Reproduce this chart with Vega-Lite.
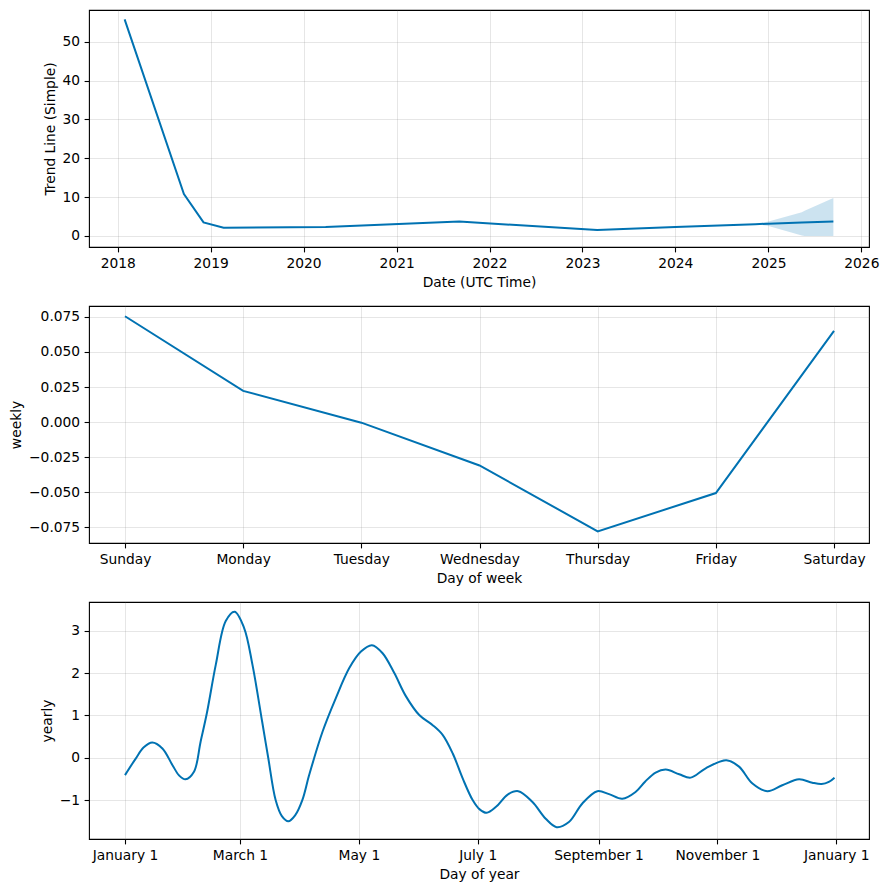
{
  "$schema": "https://vega.github.io/schema/vega-lite/v6.json",
  "padding": {"left": 8, "top": 9, "right": 5, "bottom": 5},
  "spacing": 15,
  "config": {
    "font": "DejaVu Sans",
    "view": {"stroke": "black", "strokeWidth": 1.1},
    "axis": {
      "domain": false, "grid": true, "gridColor": "#808080", "gridOpacity": 0.2, "gridWidth": 1,
      "tickColor": "black", "tickSize": 4.9, "tickWidth": 1.1,
      "labelColor": "black", "labelFontSize": 13.8, "labelFont": "DejaVu Sans", "labelPadding": 4.5,
      "titleFont": "DejaVu Sans", "titleFontSize": 13.8, "titleFontWeight": "normal", "titleColor": "black", "titlePadding": 5,
      "labelFlush": false, "labelOverlap": false
    },
    "line": {"color": "#0072B2", "strokeWidth": 2}
  },
  "datasets": {
    "trend": [
      {"ds": "2018-01-28", "trend": 55.8},
      {"ds": "2018-09-18", "trend": 10.8},
      {"ds": "2018-12-04", "trend": 3.5},
      {"ds": "2019-02-21", "trend": 2.15},
      {"ds": "2020-03-28", "trend": 2.3},
      {"ds": "2021-09-04", "trend": 3.71},
      {"ds": "2023-02-28", "trend": 1.55},
      {"ds": "2024-01-01", "trend": 2.33},
      {"ds": "2024-11-10", "trend": 3.05},
      {"ds": "2025-01-01", "trend": 3.15},
      {"ds": "2025-05-12", "trend": 3.5},
      {"ds": "2025-09-13", "trend": 3.7}
    ],
    "band": [
      {"ds": "2024-11-10", "lower": 3.05, "upper": 3.05},
      {"ds": "2025-01-01", "lower": 2.6, "upper": 3.7},
      {"ds": "2025-05-12", "lower": 0.1, "upper": 6.1},
      {"ds": "2025-05-23", "lower": 0.0, "upper": 6.5},
      {"ds": "2025-09-13", "lower": 0.0, "upper": 9.8}
    ],
    "weekly": [
      {"dow": 0, "weekly": 0.0755},
      {"dow": 1, "weekly": 0.0223},
      {"dow": 2, "weekly": -0.0004},
      {"dow": 3, "weekly": -0.0309},
      {"dow": 4, "weekly": -0.0779},
      {"dow": 5, "weekly": -0.0506},
      {"dow": 6, "weekly": 0.0650}
    ],
    "yearly": [
      {"day": 0, "yearly": -0.41},
      {"day": 5.5, "yearly": -0.02},
      {"day": 9.5, "yearly": 0.24},
      {"day": 14.0, "yearly": 0.36},
      {"day": 19.2, "yearly": 0.22},
      {"day": 24.3, "yearly": -0.17},
      {"day": 27.8, "yearly": -0.42},
      {"day": 31.0, "yearly": -0.51},
      {"day": 35.4, "yearly": -0.33},
      {"day": 38.8, "yearly": 0.38},
      {"day": 42.0, "yearly": 1.05},
      {"day": 46.6, "yearly": 2.20},
      {"day": 51.7, "yearly": 3.23},
      {"day": 56.3, "yearly": 3.45},
      {"day": 61.1, "yearly": 3.07},
      {"day": 65.4, "yearly": 2.20},
      {"day": 70.4, "yearly": 0.85},
      {"day": 73.5, "yearly": 0.0},
      {"day": 77.3, "yearly": -1.0},
      {"day": 80.5, "yearly": -1.38},
      {"day": 83.8, "yearly": -1.50},
      {"day": 87.3, "yearly": -1.36},
      {"day": 91.0, "yearly": -1.0},
      {"day": 94.5, "yearly": -0.41},
      {"day": 101.4, "yearly": 0.62},
      {"day": 108.2, "yearly": 1.41},
      {"day": 115.1, "yearly": 2.12},
      {"day": 121.1, "yearly": 2.51},
      {"day": 126.7, "yearly": 2.66},
      {"day": 132.2, "yearly": 2.47},
      {"day": 138.2, "yearly": 2.0},
      {"day": 144.2, "yearly": 1.45},
      {"day": 151.0, "yearly": 1.01},
      {"day": 157.9, "yearly": 0.77},
      {"day": 163.0, "yearly": 0.54},
      {"day": 168.2, "yearly": 0.10},
      {"day": 173.3, "yearly": -0.49},
      {"day": 178.4, "yearly": -1.0},
      {"day": 182.0, "yearly": -1.22},
      {"day": 185.6, "yearly": -1.30},
      {"day": 190.4, "yearly": -1.16},
      {"day": 196.4, "yearly": -0.87},
      {"day": 201.8, "yearly": -0.79},
      {"day": 209.0, "yearly": -1.04},
      {"day": 215.9, "yearly": -1.44},
      {"day": 221.5, "yearly": -1.64},
      {"day": 227.8, "yearly": -1.52},
      {"day": 234.7, "yearly": -1.08},
      {"day": 242.4, "yearly": -0.79},
      {"day": 248.4, "yearly": -0.86},
      {"day": 255.2, "yearly": -0.97},
      {"day": 262.0, "yearly": -0.81},
      {"day": 267.0, "yearly": -0.56},
      {"day": 272.3, "yearly": -0.35},
      {"day": 277.5, "yearly": -0.28},
      {"day": 284.4, "yearly": -0.39},
      {"day": 290.3, "yearly": -0.47},
      {"day": 298.0, "yearly": -0.25},
      {"day": 308.6, "yearly": -0.06},
      {"day": 315.1, "yearly": -0.21},
      {"day": 322.0, "yearly": -0.61},
      {"day": 329.6, "yearly": -0.79},
      {"day": 337.3, "yearly": -0.65},
      {"day": 345.9, "yearly": -0.51},
      {"day": 352.7, "yearly": -0.59},
      {"day": 357.5, "yearly": -0.62},
      {"day": 361.2, "yearly": -0.57},
      {"day": 364.1, "yearly": -0.47}
    ]
  },
  "vconcat": [
    {
      "width": 780,
      "height": 237,
      "layer": [
        {
          "data": {"name": "band"},
          "mark": {"type": "area", "color": "#0072B2", "opacity": 0.2},
          "encoding": {
            "x": {
              "field": "ds", "type": "temporal",
              "scale": {"type": "utc", "domain": [{"year": 2017, "month": 9, "date": 10, "utc": true}, {"year": 2026, "month": 1, "date": 31, "utc": true}], "nice": false},
              "axis": {
                "title": "Date (UTC Time)", "format": "%Y",
                "values": [
                  {"year": 2018, "month": 1, "date": 1, "utc": true},
                  {"year": 2019, "month": 1, "date": 1, "utc": true},
                  {"year": 2020, "month": 1, "date": 1, "utc": true},
                  {"year": 2021, "month": 1, "date": 1, "utc": true},
                  {"year": 2022, "month": 1, "date": 1, "utc": true},
                  {"year": 2023, "month": 1, "date": 1, "utc": true},
                  {"year": 2024, "month": 1, "date": 1, "utc": true},
                  {"year": 2025, "month": 1, "date": 1, "utc": true},
                  {"year": 2026, "month": 1, "date": 1, "utc": true}
                ]
              }
            },
            "y": {
              "field": "lower", "type": "quantitative",
              "scale": {"domain": [-2.84, 58.2], "nice": false, "zero": false},
              "axis": {"title": "Trend Line (Simple)", "values": [0, 10, 20, 30, 40, 50], "format": "d"}
            },
            "y2": {"field": "upper"}
          }
        },
        {
          "data": {"name": "trend"},
          "mark": {"type": "line"},
          "encoding": {
            "x": {"field": "ds", "type": "temporal", "title": "Date (UTC Time)"},
            "y": {"field": "trend", "type": "quantitative", "title": "Trend Line (Simple)"}
          }
        }
      ]
    },
    {
      "width": 780,
      "height": 237,
      "data": {"name": "weekly"},
      "mark": {"type": "line"},
      "encoding": {
        "x": {
          "field": "dow", "type": "quantitative",
          "scale": {"domain": [-0.3047, 6.296], "nice": false, "zero": false},
          "axis": {"title": "Day of week", "values": [0, 1, 2, 3, 4, 5, 6], "labelExpr": "['Sunday','Monday','Tuesday','Wednesday','Thursday','Friday','Saturday'][datum.value]"}
        },
        "y": {
          "field": "weekly", "type": "quantitative",
          "scale": {"domain": [-0.0862, 0.0828], "nice": false, "zero": false},
          "axis": {"title": "weekly", "values": [-0.075, -0.05, -0.025, 0, 0.025, 0.05, 0.075], "format": ".3f"}
        }
      }
    },
    {
      "width": 780,
      "height": 237,
      "data": {"name": "yearly"},
      "mark": {"type": "line", "interpolate": "catmull-rom"},
      "encoding": {
        "x": {
          "field": "day", "type": "quantitative",
          "scale": {"domain": [-18.47, 381.8], "nice": false, "zero": false},
          "axis": {"title": "Day of year", "values": [0, 59, 120, 181, 243, 304, 365], "labelExpr": "datum.value == 0 || datum.value == 365 ? 'January 1' : datum.value == 59 ? 'March 1' : datum.value == 120 ? 'May 1' : datum.value == 181 ? 'July 1' : datum.value == 243 ? 'September 1' : 'November 1'"}
        },
        "y": {
          "field": "yearly", "type": "quantitative",
          "scale": {"domain": [-1.92, 3.68], "nice": false, "zero": false},
          "axis": {"title": "yearly", "values": [-1, 0, 1, 2, 3], "format": "d"}
        }
      }
    }
  ]
}
